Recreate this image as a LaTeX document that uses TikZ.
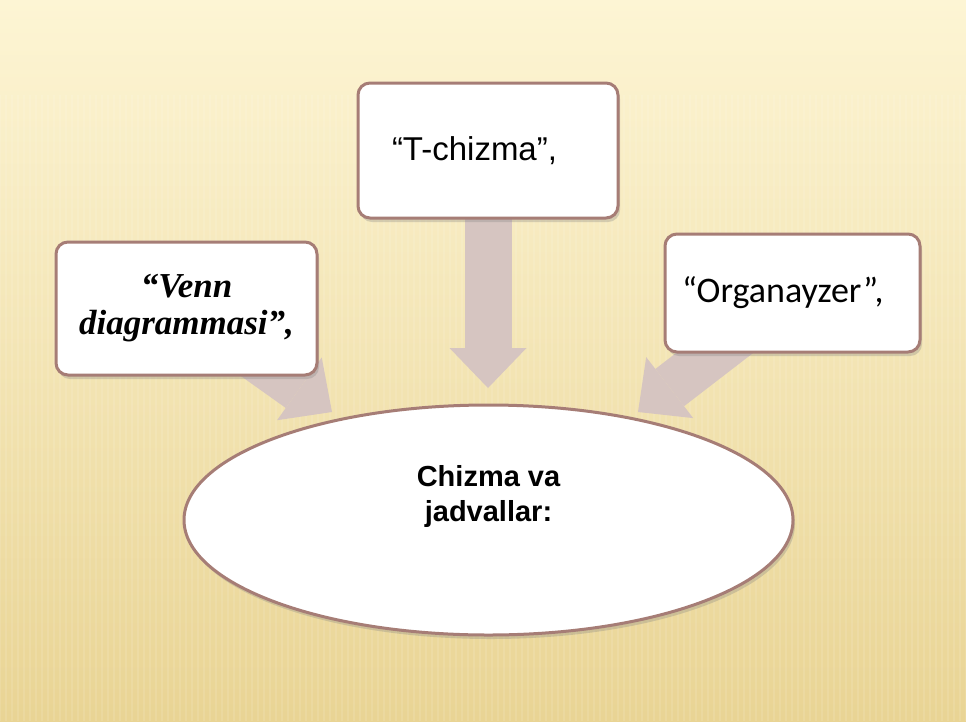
\documentclass[tikz,border=0pt]{standalone}
\usepackage{fontspec}
\setmainfont{Liberation Sans}
\newfontfamily\vennfont{Liberation Serif}
\newfontfamily\orgfont{Carlito}
\usetikzlibrary{shapes.geometric,shadows,arrows.meta,backgrounds}

\begin{document}
\begin{tikzpicture}[x=1pt,y=-1pt,
	box/.style={draw=edge, line width=3pt, fill=white, rounded corners=12pt,
		drop shadow={shadow xshift=2pt, shadow yshift=-4pt, opacity=0.3}},
	hub/.style={ellipse, draw=edge, line width=3pt, fill=white, inner sep=0pt,
		minimum width=609pt, minimum height=230pt,
		drop shadow={shadow xshift=2pt, shadow yshift=-4pt, opacity=0.3}},
	bigarrow/.style={draw=pale, line width=47pt,
		-{Triangle[width=77pt,length=40pt,line width=0pt]}}]
			% Define colors
			\definecolor{bgtop}{RGB}{253,245,212}
			\definecolor{bgmid}{RGB}{250,235,182}
			\definecolor{bgbot}{RGB}{233,212,148}
			\definecolor{edge}{RGB}{166,125,118}
			\definecolor{pale}{RGB}{214,197,193}
			
			\useasboundingbox (0,0) rectangle (966,721);
			
			% Arrow tips
			\coordinate (tipD) at (488,388);
			\coordinate (tipL) at (332,412);
			\coordinate (tipR) at (638,412);
			
			% Boxes
			\node[box, minimum width=260pt, minimum height=135pt, text width=192pt, inner xsep=34pt, align=left,
				font=\fontsize{33}{38}\selectfont] (tch) at (488,150.5) {“T-chizma”,};
			\node[box, minimum width=261pt, minimum height=133pt, align=center,
				font=\fontsize{35}{37}\selectfont\vennfont\bfseries\itshape] (venn) at (186.5,308.5) {“Venn\\diagrammasi”,};
			\node[box, minimum width=255pt, minimum height=118pt, text width=221pt, inner xsep=17pt, align=left,
				font=\fontsize{36}{40}\selectfont\orgfont] (org) at (792.5,293) {“Organayzer”,};
			
			% Ellipse
			\node[hub] (chizma) at (488.5,520) {};
			\node[align=center, font=\fontsize{29}{35}\selectfont\bfseries] (chizmatext) at ([yshift=24pt]chizma.center)
				{Chizma va\\jadvallar:};
			
			% Background and arrows
			\begin{scope}[on background layer]
				\shade[top color=bgtop, middle color=bgmid, bottom color=bgbot] (0,0) rectangle (966,721);
				\foreach \x in {0,6,...,966}
					\draw[white, opacity=0.1, line width=2pt] (\x,95) -- (\x,721);
				\draw[bigarrow] (tch.center) -- (tipD);
				\draw[bigarrow] (venn.center) -- (tipL);
				\draw[bigarrow] (org.center) -- (tipR);
			\end{scope}
		\end{tikzpicture}
\end{document}
